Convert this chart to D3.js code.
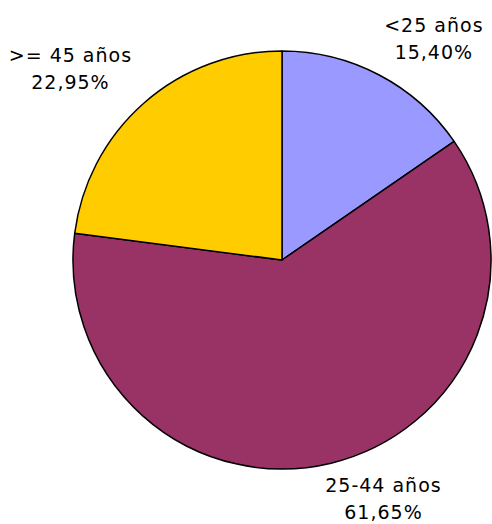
<!DOCTYPE html>
<html lang="es">
<head>
<meta charset="utf-8">
<title>Edades</title>
<script src="https://d3js.org/d3.v7.min.js"></script>
<style>
    body { margin: 0; background: #fff; }
    text { font-family: Verdana, "DejaVu Sans", sans-serif; font-size: 19px; letter-spacing: 1px; fill: #000; }
</style>
</head>
<body>
<div id="chart"></div>
<script>
    // data
    var categories = ["<25 años", "25-44 años", ">= 45 años"]
    var values = [15.40, 61.65, 22.95]
    var colors = ["#9999FF", "#993366", "#FFCC00"]

    var width = 492
    var height = 524
    var cx = 282, cy = 260
    var radius = 209

    // label nudges from the point just outside each slice (layout only)
    var labelNudge = [[50, -34], [50, 19], [-67, -33]]

    var svg = d3.select("#chart")
        .append("svg")
        .attr("width", width)
        .attr("height", height)

    var g = svg.append("g")
        .attr("transform", "translate(" + cx + "," + cy + ")")

    var pie = d3.pie()
        .value(function(d) { return d.value })
        .sort(null)

    var data_ready = pie(categories.map(function(c, i) {
        return {label: c, value: values[i], color: colors[i]}
    }))

    var arc = d3.arc().innerRadius(0).outerRadius(radius)

    g.selectAll("path")
        .data(data_ready)
        .enter()
        .append("path")
        .attr("d", arc)
        .attr("fill", function(d) { return d.data.color })
        .attr("stroke", "#000")
        .attr("stroke-width", 1.5)
        .attr("stroke-linejoin", "round")

    // labels: start from a point just outside the middle of the slice
    var labels = g.selectAll("text.lbl")
        .data(data_ready)
        .enter()
        .append("text")
        .attr("class", "lbl")
        .attr("text-anchor", "middle")
        .attr("transform", function(d, i) {
            var a = (d.startAngle + d.endAngle) / 2
            var x = Math.sin(a) * (radius + 10) + labelNudge[i][0]
            var y = -Math.cos(a) * (radius + 10) + labelNudge[i][1]
            return "translate(" + x + "," + y + ")"
        })

    labels.append("tspan")
        .attr("x", 0)
        .attr("y", 0)
        .text(function(d) { return d.data.label })

    labels.append("tspan")
        .attr("x", 0)
        .attr("y", 27)
        .text(function(d) { return d.data.value.toFixed(2).replace(".", ",") + "%" })
</script>
</body>
</html>
